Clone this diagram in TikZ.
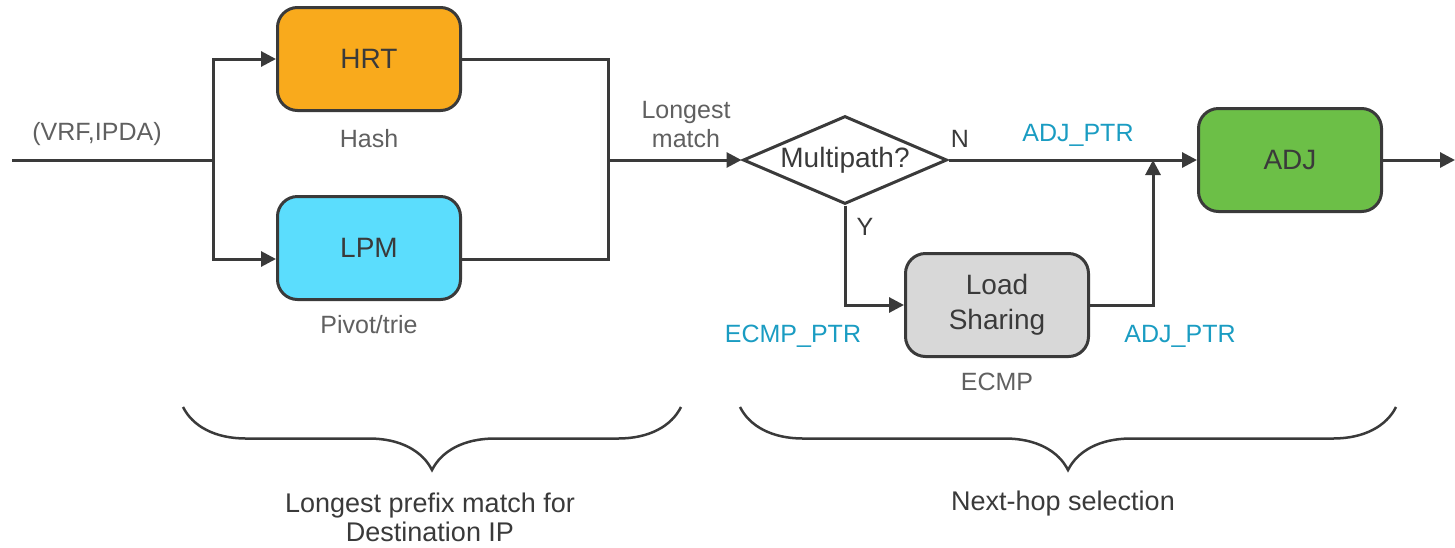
\documentclass[tikz,border=0pt]{standalone}
\usepackage{fontspec}
\setmainfont{Liberation Sans}
\usetikzlibrary{positioning,shapes.geometric,arrows.meta,decorations.pathreplacing}
\definecolor{lineGray}{HTML}{3A3A3A}
\definecolor{txtGray}{HTML}{606060}
\definecolor{ptrBlue}{HTML}{1A9CC2}
\definecolor{hrtOrange}{HTML}{F9AA1C}
\definecolor{lpmCyan}{HTML}{5BDDFD}
\definecolor{adjGreen}{HTML}{6CBF47}
\definecolor{loadGray}{HTML}{D8D8D8}
\begin{document}
\begin{tikzpicture}[x=1pt, y=-1pt,
    block/.style={draw=lineGray, line width=3pt, rounded corners=20pt, minimum width=183pt, minimum height=103pt, inner sep=0pt, text=lineGray, font=\fontsize{28}{35}\selectfont, align=center},
    decision/.style={diamond, aspect=2.3, draw=lineGray, line width=3pt, minimum width=204pt, minimum height=88pt, inner sep=0pt, text=lineGray, font=\fontsize{28}{34}\selectfont},
    lbl/.style={text=txtGray, font=\fontsize{25}{29}\selectfont, align=center},
    ptr/.style={text=ptrBlue, font=\fontsize{25}{29}\selectfont},
    link/.style={draw=lineGray, line width=3pt},
    arr/.style={link, -{Triangle[length=15pt, width=15pt]}},
    grp/.style={draw=lineGray, line width=2.5pt, decorate, decoration={brace, amplitude=63pt, mirror}},
]
    \useasboundingbox (0,0) rectangle (1455,547);

    % Lookup tables
    \node[block, fill=hrtOrange] (hrt) at (369,59) {HRT};
    \node[block, fill=lpmCyan] (lpm) at (369,248) {LPM};
    \node[lbl] (hash) at (369,139) {Hash};
    \node[lbl] (pivot) at (369,325) {Pivot/trie};

    % Next-hop stages
    \node[decision] (mp) at (845,160) {Multipath?};
    \node[block, fill=loadGray] (load) at (997,305) {Load\\Sharing};
    \node[block, fill=adjGreen] (adj) at (1290,160) {ADJ};
    \node[lbl] (ecmp) at (997,382) {ECMP};

    % Junction points
    \coordinate (in) at (12,160);
    \coordinate (split) at (213,160);
    \coordinate (merge) at (608,160);
    \coordinate (join) at (1153,160);
    \coordinate (out) at (1455,160);

    % Input fan-out
    \draw[link] (in) -- (split);
    \draw[arr] (split) |- (hrt.west);
    \draw[arr] (split) |- ([yshift=-11pt]lpm.west);
    \node[lbl] (key) at (97,134) {(VRF,IPDA)};

    % Merge into decision
    \draw[link] (hrt.east) -| (merge);
    \draw[link] ([yshift=-11pt]lpm.east) -| (merge);
    \draw[arr] (merge) -- (mp.west);
    \node[lbl] (lm) at (686,125) {Longest\\match};

    % Branches
    \draw[arr] (mp.east) -- (adj.west);
    \draw[arr] (mp.south) |- (load.west);
    \draw[arr] (load.east) -| (join);
    \draw[arr] (adj.east) -- (out);
    \node[lbl, text=lineGray] (no) at (960,139) {N};
    \node[lbl, text=lineGray] (yes) at (865,227) {Y};
    \node[ptr] (ptrN) at (1078,135) {ADJ\_PTR};
    \node[ptr] (ptrE) at (793,336) {ECMP\_PTR};
    \node[ptr] (ptrY) at (1180,336) {ADJ\_PTR};

    % Braces
    \draw[grp] (183,407) -- (681,407);
    \draw[grp] (740,407) -- (1396,407);
    \node[lbl, text=lineGray, font=\fontsize{27}{29}\selectfont] (lpmGrp) at (430,517) {Longest prefix match for\\Destination IP};
    \node[lbl, text=lineGray, font=\fontsize{27}{29}\selectfont] (nhGrp) at (1063,504) {Next-hop selection};
\end{tikzpicture}
\end{document}
